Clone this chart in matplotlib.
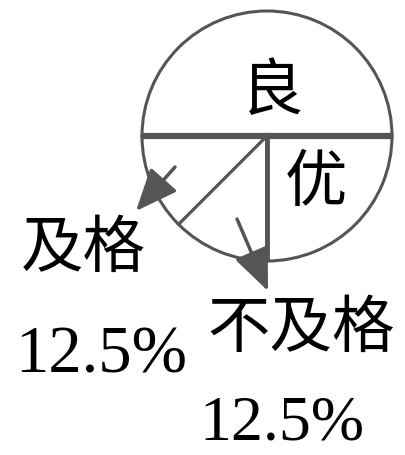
import numpy as np
import matplotlib
matplotlib.use("Agg")
import matplotlib.pyplot as plt

# slices counterclockwise from 0 degrees
labels = ["良", "及格", "不及格", "优"]
shares = [50, 12.5, 12.5, 25]
pct_text = ["", "12.5%", "12.5%", ""]

grey = "#555555"
cjk = ["Noto Sans CJK SC", "DejaVu Sans"]

fig = plt.figure(figsize=(4.06, 4.56), dpi=100)
ax = fig.add_axes([0, 0, 1, 1])

cx, cy, r = 267, 319, 125
wedges, _ = ax.pie(shares, startangle=0, counterclock=True, center=(cx, cy),
                   radius=r, frame=True,
                   wedgeprops=dict(facecolor="white", edgecolor=grey, linewidth=2.2))

# thicker horizontal diameter
ax.plot([cx - r, cx + r], [cy, cy], color=grey, lw=4.5, solid_capstyle="butt")
ax.plot([cx, cx], [cy, cy - r], color=grey, lw=3.5, solid_capstyle="butt")

# slice labels
fs = 45
ax.text(272, 364, labels[0], family=cjk, fontsize=fs, ha="center", va="center")
ax.text(316, 273, labels[3], family=cjk, fontsize=fs, ha="center", va="center")
ax.text(83, 207, labels[1], family=cjk, fontsize=fs, ha="center", va="center")
ax.text(301, 127, labels[2], family=cjk, fontsize=fs, ha="center", va="center")
ax.text(101, 83, pct_text[1], family="Liberation Serif", fontsize=48, ha="center", va="baseline")
ax.text(282, 2, pct_text[2], family="Liberation Serif", fontsize=46, ha="center", va="bottom")

# arrows
arr = dict(arrowstyle="-|>,head_length=1.3,head_width=0.55", color=grey, lw=2.5,
           mutation_scale=20, shrinkA=0, shrinkB=0)
ax.annotate("", xy=(136, 244), xytext=(175, 288), arrowprops=arr)
ax.annotate("", xy=(268, 164), xytext=(237, 236), arrowprops=arr)

ax.set_xlim(0, 406)
ax.set_ylim(0, 456)
ax.set_aspect("auto")
ax.axis("off")

fig.savefig("out.png", dpi=100, facecolor="white")
